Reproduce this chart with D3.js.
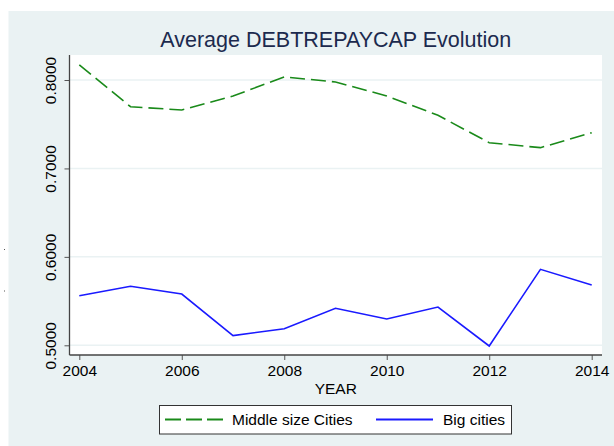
<!DOCTYPE html>
<html>
<head>
<meta charset="utf-8">
<script src="https://cdn.jsdelivr.net/npm/d3@7"></script>
<style>
  html, body { margin: 0; padding: 0; background: #ffffff; }
  svg { display: block; font-family: Arial, "Liberation Sans", sans-serif; }
</style>
</head>
<body>
<svg id="chart" width="614" height="446"></svg>
<script>
const years = [2004, 2005, 2006, 2007, 2008, 2009, 2010, 2011, 2012, 2013, 2014];
const middleCities = [0.8170, 0.7698, 0.7661, 0.7819, 0.8034, 0.7978, 0.7819, 0.7601, 0.7291, 0.7235, 0.7404];
const bigCities = [0.5561, 0.5667, 0.5580, 0.5109, 0.5188, 0.5418, 0.5297, 0.5433, 0.4992, 0.5859, 0.5682];
const xTicks = [2004, 2006, 2008, 2010, 2012, 2014];
const yTicks = [0.5, 0.6, 0.7, 0.8];
const seriesNames = ["Middle size Cities", "Big cities"];
const titleText = "Average DEBTREPAYCAP Evolution";
const xLabel = "YEAR";

const svg = d3.select("#chart");
const W = 614, H = 446;

// graph region background
svg.append("rect").attr("x", 8.5).attr("y", 11).attr("width", W - 8.5).attr("height", H - 11)
  .attr("fill", "#eaf2f3");

// small stray marks at left edge
[249.5, 291].forEach(yy => {
  svg.append("rect").attr("x", 4).attr("y", yy - 0.5).attr("width", 1).attr("height", 1).attr("fill", "#555");
});

const plot = { left: 69.5, right: 602, top: 55, bottom: 355 };

svg.append("rect").attr("x", plot.left).attr("y", plot.top)
  .attr("width", plot.right - plot.left).attr("height", plot.bottom - plot.top)
  .attr("fill", "#ffffff");

const x = d3.scaleLinear().domain([2004, 2014]).range([79.3, 591.7]);
const y = d3.scaleLinear().domain([0.5, 0.8]).range([345.3, 80]);

// gridlines
svg.append("g").selectAll("line").data(yTicks).join("line")
  .attr("x1", plot.left).attr("x2", plot.right)
  .attr("y1", d => y(d)).attr("y2", d => y(d))
  .attr("stroke", "#eaf2f3").attr("stroke-width", 1.5);

// Y axis
const yAxis = d3.axisLeft(y).tickValues(yTicks).tickFormat(d3.format(".4f")).tickSize(5).tickSizeOuter(0);
const gy = svg.append("g").attr("transform", `translate(${plot.left},0)`).call(yAxis);
gy.select(".domain").remove();
gy.selectAll(".tick line").attr("stroke", "#555");
gy.selectAll(".tick text")
  .attr("fill", "#000").style("font-size", "15.5px")
  .attr("text-anchor", "middle")
  .attr("transform", "rotate(-90)").attr("x", 0).attr("y", -14).attr("dy", "0");
svg.append("line").attr("x1", plot.left).attr("x2", plot.left)
  .attr("y1", plot.top).attr("y2", plot.bottom)
  .attr("stroke", "#444").attr("stroke-width", 1.3);

// X axis
const xAxis = d3.axisBottom(x).tickValues(xTicks).tickFormat(d3.format("d")).tickSize(5).tickSizeOuter(0);
const gx = svg.append("g").attr("transform", `translate(0,${plot.bottom})`).call(xAxis);
gx.select(".domain").remove();
gx.selectAll(".tick line").attr("stroke", "#555");
gx.selectAll(".tick text").attr("fill", "#000").style("font-size", "15.5px").attr("y", 10).attr("dy", "0.71em");
svg.append("line").attr("x1", plot.left).attr("x2", plot.right)
  .attr("y1", plot.bottom).attr("y2", plot.bottom)
  .attr("stroke", "#444").attr("stroke-width", 1.3);

// X label
svg.append("text").attr("x", (plot.left + plot.right) / 2).attr("y", 394)
  .attr("text-anchor", "middle").style("font-size", "15.5px").attr("fill", "#000").text(xLabel);

// Title
svg.append("text").attr("x", (plot.left + plot.right) / 2).attr("y", 47)
  .attr("text-anchor", "middle").style("font-size", "21.5px").attr("fill", "#1c2a4e").text(titleText);

// lines
const line = d3.line().x(d => x(d[0])).y(d => y(d[1]));
const colors = ["#1a8a1a", "#1a1aff"];
const dashes = ["15,6", null];

svg.append("path").datum(years.map((yr, i) => [yr, middleCities[i]]))
  .attr("d", line).attr("fill", "none").attr("stroke", colors[0])
  .attr("stroke-width", 1.6).attr("stroke-dasharray", dashes[0]);
svg.append("path").datum(years.map((yr, i) => [yr, bigCities[i]]))
  .attr("d", line).attr("fill", "none").attr("stroke", colors[1])
  .attr("stroke-width", 1.6).attr("stroke-linejoin", "miter");

// Legend
const lg = svg.append("g");
lg.append("rect").attr("x", 159.5).attr("y", 405.5).attr("width", 352).attr("height", 28.5)
  .attr("fill", "#ffffff").attr("stroke", "#333").attr("stroke-width", 1);
const legendItems = [
  { name: seriesNames[0], x1: 165, x2: 223, tx: 232, color: colors[0], dash: "16,5" },
  { name: seriesNames[1], x1: 376, x2: 433, tx: 443, color: colors[1], dash: null }
];
legendItems.forEach(it => {
  lg.append("line").attr("x1", it.x1).attr("x2", it.x2).attr("y1", 419.5).attr("y2", 419.5)
    .attr("stroke", it.color).attr("stroke-width", 1.8).attr("stroke-dasharray", it.dash);
  lg.append("text").attr("x", it.tx).attr("y", 425).style("font-size", "15.5px").attr("fill", "#000").text(it.name);
});
</script>
</body>
</html>
